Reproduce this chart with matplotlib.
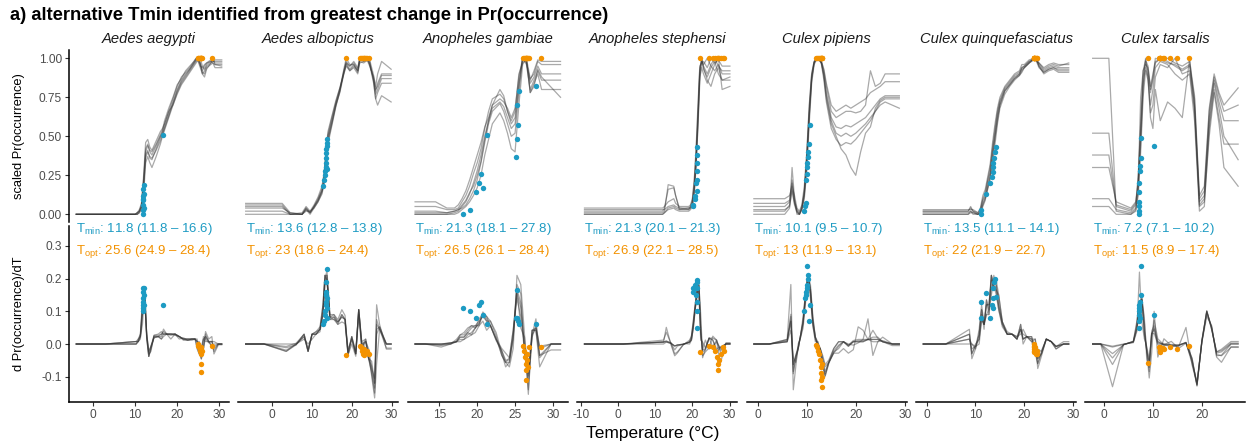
import numpy as np
import matplotlib
matplotlib.use("Agg")
import matplotlib.pyplot as plt

plt.rcParams['font.family'] = ['Liberation Sans', 'DejaVu Sans']
plt.rcParams['mathtext.fontset'] = 'custom'
plt.rcParams['mathtext.rm'] = 'Liberation Sans'
plt.rcParams['mathtext.it'] = 'Liberation Sans:italic'

BLUE = '#1D9BC3'
ORANGE = '#F39200'
LINE = '#333333'

species = ["Aedes aegypti", "Aedes albopictus", "Anopheles gambiae",
           "Anopheles stephensi", "Culex pipiens", "Culex quinquefasciatus",
           "Culex tarsalis"]

# ---------------- Aedes aegypti ----------------
aeg_temp = [-4.0, 10, 10.5, 11, 11.5, 12, 12.5, 13, 13.5, 14, 15, 16, 16.5, 17, 18, 19,
            20, 21, 22, 23, 24, 24.5, 25, 25.5, 26, 26.5, 27, 28, 28.5, 29, 30.6]
aeg_runs = [
    [0, 0, 0.01, 0.02, 0.05, 0.20, 0.42, 0.45, 0.40, 0.38, 0.44, 0.50, 0.52, 0.56, 0.64, 0.72, 0.80, 0.86, 0.90, 0.93, 0.97, 0.99, 1.00, 0.97, 0.92, 0.95, 0.97, 0.98, 0.99, 0.97, 0.97],
    [0, 0, 0.00, 0.01, 0.03, 0.15, 0.38, 0.41, 0.36, 0.35, 0.42, 0.49, 0.53, 0.58, 0.66, 0.70, 0.78, 0.84, 0.88, 0.92, 0.96, 0.98, 0.99, 1.00, 0.95, 0.93, 0.96, 0.98, 0.97, 0.96, 0.96],
    [0, 0, 0.01, 0.02, 0.06, 0.24, 0.46, 0.48, 0.43, 0.41, 0.47, 0.53, 0.55, 0.58, 0.66, 0.74, 0.82, 0.88, 0.91, 0.94, 0.98, 1.00, 0.98, 0.94, 0.90, 0.92, 0.95, 0.97, 0.98, 0.99, 0.99],
    [0, 0, 0.00, 0.01, 0.04, 0.12, 0.33, 0.37, 0.33, 0.30, 0.37, 0.45, 0.50, 0.54, 0.62, 0.70, 0.77, 0.83, 0.87, 0.91, 0.95, 0.97, 0.99, 0.96, 0.90, 0.88, 0.93, 0.97, 1.00, 0.96, 0.95],
    [0, 0, 0.01, 0.03, 0.07, 0.22, 0.40, 0.44, 0.41, 0.40, 0.45, 0.51, 0.54, 0.60, 0.68, 0.75, 0.83, 0.87, 0.92, 0.95, 0.98, 1.00, 0.99, 0.95, 0.94, 0.96, 0.97, 0.99, 0.98, 0.98, 0.98],
    [0, 0, 0.00, 0.02, 0.05, 0.18, 0.36, 0.40, 0.37, 0.36, 0.41, 0.47, 0.51, 0.55, 0.63, 0.71, 0.79, 0.85, 0.89, 0.93, 0.97, 0.99, 1.00, 0.97, 0.91, 0.90, 0.94, 0.96, 0.97, 0.94, 0.94],
]
aeg_pr_max = 0.38
aeg_tmin = [11.8, 11.8, 11.9, 11.8, 12.0, 11.8, 12.1, 11.8, 12.2, 11.8, 16.6]
aeg_tmin_occ = [0.00, 0.03, 0.06, 0.10, 0.13, 0.16, 0.19, 0.09, 0.04, 0.12, 0.51]
aeg_tmin_slope = [0.10, 0.12, 0.13, 0.14, 0.15, 0.17, 0.17, 0.11, 0.12, 0.16, 0.12]
aeg_topt = [24.9, 25.0, 25.2, 25.4, 25.6, 25.6, 25.7, 25.8, 25.6, 28.4, 25.5]
aeg_topt_slope = [0.00, -0.005, -0.01, -0.02, -0.03, -0.06, -0.085, -0.02, -0.01, -0.005, -0.015]
aeg_xticks = [0, 10, 20, 30]

# ---------------- Aedes albopictus ----------------
alb_temp = [-6.7, 2.5, 4.5, 7.5, 8.5, 9.5, 10.5, 11.5, 12.5, 13, 13.5, 14, 15, 16, 17, 18,
            18.6, 19.5, 20.5, 21.5, 22, 23, 24, 24.5, 25.5, 26, 26.5, 27.5, 29.9]
alb_runs = [
    [0.07, 0.07, 0.01, 0.00, 0.04, 0.01, 0.05, 0.09, 0.15, 0.22, 0.36, 0.50, 0.60, 0.71, 0.80, 0.91, 0.97, 0.95, 0.97, 0.93, 1.00, 0.99, 1.00, 0.97, 0.86, 0.77, 0.80, 0.87, 0.87],
    [0.05, 0.05, 0.00, 0.00, 0.02, 0.02, 0.04, 0.08, 0.13, 0.19, 0.31, 0.45, 0.57, 0.69, 0.79, 0.93, 1.00, 0.96, 0.96, 0.91, 0.98, 0.97, 0.99, 0.96, 0.84, 0.74, 0.78, 0.84, 0.84],
    [0.02, 0.02, 0.00, 0.01, 0.05, 0.02, 0.06, 0.11, 0.18, 0.26, 0.40, 0.53, 0.63, 0.73, 0.81, 0.90, 0.95, 0.92, 0.95, 0.92, 0.99, 1.00, 0.98, 0.95, 0.88, 0.80, 0.82, 0.89, 0.89],
    [0.00, 0.00, 0.00, 0.00, 0.03, 0.00, 0.04, 0.08, 0.14, 0.20, 0.33, 0.48, 0.59, 0.70, 0.78, 0.90, 0.96, 0.92, 0.94, 0.90, 0.97, 0.98, 1.00, 0.98, 0.85, 0.74, 0.70, 0.76, 0.72],
    [0.04, 0.04, 0.01, 0.00, 0.04, 0.01, 0.05, 0.10, 0.16, 0.24, 0.38, 0.51, 0.62, 0.72, 0.81, 0.92, 0.98, 0.95, 0.98, 0.94, 1.00, 0.98, 0.99, 0.96, 0.87, 0.79, 0.84, 0.90, 0.90],
    [0.06, 0.06, 0.00, 0.00, 0.03, 0.01, 0.05, 0.09, 0.15, 0.21, 0.34, 0.47, 0.58, 0.70, 0.79, 0.91, 0.97, 0.93, 0.96, 0.92, 0.99, 0.99, 1.00, 0.99, 0.89, 0.82, 0.90, 0.98, 0.93],
]
alb_pr_max = 0.75
alb_tmin = [12.8, 13.0, 13.2, 13.3, 13.4, 13.5, 13.6, 13.6, 13.6, 13.7, 13.7, 13.8, 13.8]
alb_tmin_occ = [0.18, 0.22, 0.25, 0.28, 0.30, 0.33, 0.36, 0.39, 0.42, 0.44, 0.46, 0.48, 0.29]
alb_tmin_slope = [0.06, 0.07, 0.09, 0.10, 0.12, 0.13, 0.15, 0.16, 0.19, 0.23, 0.11, 0.14, 0.08]
alb_topt = [18.6, 22.0, 22.2, 22.5, 22.8, 23.0, 23.0, 23.2, 23.5, 23.8, 24.4]
alb_topt_slope = [-0.035, -0.005, -0.01, -0.02, -0.03, -0.015, -0.035, -0.02, -0.025, -0.02, -0.03]
alb_xticks = [0, 10, 20, 30]

# ---------------- Anopheles gambiae ----------------
gam_temp = [11.8, 14.5, 16, 17, 17.5, 18, 18.5, 19, 19.5, 20, 20.5, 21, 21.5, 22, 23, 23.5,
            24, 24.5, 25, 25.5, 26, 26.5, 27, 27.5, 28, 28.5, 31.0]
gam_runs = [
    [0.00, 0.00, 0.00, 0.01, 0.02, 0.05, 0.08, 0.13, 0.20, 0.28, 0.38, 0.50, 0.60, 0.68, 0.72, 0.69, 0.62, 0.55, 0.58, 0.82, 1.00, 0.98, 0.84, 0.88, 0.95, 0.90, 0.90],
    [0.02, 0.02, 0.01, 0.02, 0.03, 0.04, 0.06, 0.10, 0.15, 0.22, 0.33, 0.46, 0.58, 0.66, 0.71, 0.66, 0.58, 0.50, 0.52, 0.78, 1.00, 0.96, 0.80, 0.86, 0.92, 0.86, 0.86],
    [0.05, 0.05, 0.03, 0.03, 0.04, 0.08, 0.12, 0.18, 0.26, 0.33, 0.42, 0.55, 0.66, 0.74, 0.77, 0.74, 0.66, 0.60, 0.66, 0.90, 0.97, 1.00, 0.87, 0.90, 0.98, 0.96, 0.96],
    [0.00, 0.00, 0.00, 0.00, 0.01, 0.03, 0.05, 0.08, 0.12, 0.17, 0.25, 0.38, 0.48, 0.58, 0.65, 0.60, 0.52, 0.42, 0.40, 0.70, 0.96, 1.00, 0.78, 0.84, 0.90, 0.80, 0.80],
    [0.08, 0.08, 0.04, 0.04, 0.06, 0.10, 0.15, 0.22, 0.30, 0.38, 0.46, 0.56, 0.62, 0.70, 0.74, 0.72, 0.68, 0.62, 0.68, 0.88, 1.00, 0.97, 0.86, 0.92, 0.99, 0.98, 0.98],
    [0.01, 0.01, 0.01, 0.02, 0.03, 0.06, 0.09, 0.14, 0.18, 0.25, 0.34, 0.48, 0.60, 0.70, 0.80, 0.76, 0.66, 0.58, 0.62, 0.84, 1.00, 0.98, 0.78, 0.82, 0.93, 0.88, 0.75],
]
gam_pr_max = 0.35
gam_tmin = [18.1, 19.1, 19.9, 20.2, 20.5, 20.8, 21.3, 25.1, 25.2, 25.3, 25.4, 25.5, 27.8]
gam_tmin_occ = [0.00, 0.03, 0.14, 0.20, 0.26, 0.17, 0.51, 0.37, 0.70, 0.48, 0.57, 0.79, 0.82]
gam_tmin_slope = [0.11, 0.10, 0.08, 0.12, 0.13, 0.09, 0.06, 0.08, 0.165, 0.08, 0.07, 0.06, 0.06]
gam_topt = [26.1, 26.2, 26.3, 26.4, 26.5, 26.5, 26.6, 26.6, 26.7, 26.8, 28.4]
gam_topt_slope = [-0.005, -0.02, -0.04, -0.06, -0.08, -0.11, -0.03, -0.05, -0.07, -0.01, -0.008]
gam_xticks = [15, 20, 25, 30]

# ---------------- Anopheles stephensi ----------------
ste_temp = [-9.0, 12, 12.5, 13.5, 15, 15.5, 16.5, 19, 19.5, 20, 20.5, 21, 21.5, 22, 22.5,
            23, 24, 25, 26, 27, 28, 30.1]
ste_runs = [
    [0.02, 0.02, 0.04, 0.16, 0.17, 0.12, 0.04, 0.04, 0.05, 0.08, 0.18, 0.36, 0.62, 0.92, 0.98, 0.95, 0.90, 0.96, 1.00, 0.95, 0.92, 0.92],
    [0.00, 0.00, 0.01, 0.03, 0.04, 0.03, 0.02, 0.02, 0.03, 0.05, 0.13, 0.30, 0.58, 0.90, 1.00, 0.93, 0.88, 0.94, 0.98, 0.90, 0.86, 0.86],
    [0.04, 0.04, 0.05, 0.08, 0.10, 0.07, 0.05, 0.05, 0.06, 0.10, 0.22, 0.42, 0.70, 0.95, 0.97, 0.98, 0.94, 1.00, 0.97, 0.99, 0.95, 0.95],
    [0.01, 0.01, 0.02, 0.19, 0.18, 0.12, 0.03, 0.04, 0.04, 0.06, 0.15, 0.33, 0.60, 0.88, 0.94, 0.90, 0.84, 0.90, 0.96, 1.00, 0.80, 0.82],
    [0.03, 0.03, 0.03, 0.05, 0.06, 0.05, 0.04, 0.03, 0.05, 0.09, 0.20, 0.40, 0.66, 0.94, 0.99, 0.96, 1.00, 0.95, 0.92, 0.96, 0.90, 0.90],
    [0.00, 0.00, 0.01, 0.04, 0.05, 0.04, 0.03, 0.03, 0.04, 0.06, 0.14, 0.32, 0.55, 0.85, 1.00, 0.94, 0.86, 0.82, 0.90, 0.94, 0.86, 0.88],
]
ste_pr_max = 0.30
ste_tmin = [20.1, 20.3, 20.6, 20.8, 21.0, 21.3, 21.3, 21.3, 21.3, 21.3, 21.3]
ste_tmin_occ = [0.05, 0.06, 0.10, 0.12, 0.20, 0.15, 0.22, 0.28, 0.33, 0.38, 0.43]
ste_tmin_slope = [0.17, 0.16, 0.18, 0.17, 0.15, 0.05, 0.10, 0.13, 0.17, 0.19, 0.195]
ste_topt = [22.1, 24.5, 25.5, 26.2, 26.7, 26.9, 27.0, 27.2, 27.8, 28.2, 28.5]
ste_topt_slope = [-0.024, -0.005, -0.01, -0.02, -0.04, -0.06, -0.08, -0.05, -0.03, -0.01, -0.02]
ste_xticks = [-10, 0, 10, 20, 30]

# ---------------- Culex pipiens ----------------
pip_temp = [-0.8, 5.5, 6.5, 7, 7.5, 8, 8.5, 9, 9.5, 10, 10.5, 11, 11.5, 12, 12.5, 13, 13.5,
            14, 15, 16, 17, 18, 19, 20, 21, 22, 23, 24, 25, 26, 28.9]
pip_runs = [
    [0.05, 0.05, 0.08, 0.20, 0.08, 0.02, 0.00, 0.04, 0.14, 0.35, 0.65, 0.88, 0.97, 1.00, 0.99, 0.97, 0.90, 0.78, 0.62, 0.56, 0.55, 0.57, 0.56, 0.58, 0.60, 0.62, 0.66, 0.70, 0.74, 0.76, 0.76],
    [0.00, 0.00, 0.04, 0.30, 0.10, 0.00, 0.00, 0.03, 0.10, 0.28, 0.58, 0.84, 0.96, 0.99, 1.00, 0.96, 0.86, 0.72, 0.55, 0.48, 0.44, 0.46, 0.45, 0.48, 0.52, 0.56, 0.60, 0.66, 0.72, 0.74, 0.74],
    [0.10, 0.10, 0.12, 0.18, 0.12, 0.04, 0.02, 0.06, 0.18, 0.40, 0.70, 0.90, 0.98, 1.00, 1.00, 0.98, 0.93, 0.84, 0.70, 0.66, 0.68, 0.70, 0.68, 0.70, 0.72, 0.74, 0.78, 0.80, 0.82, 0.85, 0.85],
    [0.03, 0.03, 0.05, 0.15, 0.06, 0.01, 0.00, 0.03, 0.12, 0.32, 0.62, 0.86, 0.97, 1.00, 0.99, 0.97, 0.88, 0.74, 0.58, 0.50, 0.42, 0.38, 0.30, 0.25, 0.40, 0.52, 0.56, 0.68, 0.73, 0.75, 0.75],
    [0.07, 0.07, 0.09, 0.22, 0.09, 0.03, 0.01, 0.05, 0.15, 0.38, 0.68, 0.90, 0.98, 0.99, 1.00, 0.98, 0.92, 0.82, 0.66, 0.62, 0.64, 0.66, 0.66, 0.65, 0.66, 0.70, 0.92, 0.82, 0.84, 0.90, 0.90],
    [0.02, 0.02, 0.06, 0.16, 0.07, 0.02, 0.00, 0.04, 0.13, 0.34, 0.63, 0.87, 0.97, 1.00, 1.00, 0.97, 0.89, 0.76, 0.60, 0.52, 0.50, 0.52, 0.50, 0.52, 0.55, 0.58, 0.62, 0.66, 0.70, 0.72, 0.68],
]
pip_pr_max = 0.35
pip_tmin = [9.5, 9.6, 9.8, 9.9, 10.0, 10.1, 10.1, 10.2, 10.3, 10.5, 10.7]
pip_tmin_occ = [0.02, 0.05, 0.07, 0.22, 0.26, 0.30, 0.33, 0.37, 0.40, 0.45, 0.57]
pip_tmin_slope = [0.10, 0.14, 0.15, 0.16, 0.17, 0.18, 0.24, 0.20, 0.21, 0.07, 0.12]
pip_topt = [11.9, 12.1, 12.3, 12.5, 12.8, 13.0, 13.0, 13.0, 13.1, 13.1, 13.1]
pip_topt_slope = [-0.003, -0.01, -0.02, -0.03, -0.05, -0.07, -0.09, -0.11, -0.13, -0.06, -0.10]
pip_xticks = [0, 10, 20, 30]

# ---------------- Culex quinquefasciatus ----------------
qui_temp = [-0.7, 8.5, 9, 9.5, 10.5, 11, 11.5, 12, 12.5, 13, 13.5, 14, 14.5, 15, 16, 17, 18,
            19, 19.5, 20, 21, 22, 22.5, 23, 24, 25, 26, 27, 29.1]
qui_runs = [
    [0.02, 0.02, 0.05, 0.02, 0.00, 0.02, 0.09, 0.12, 0.21, 0.27, 0.41, 0.52, 0.64, 0.72, 0.80, 0.84, 0.88, 0.90, 0.94, 0.95, 0.98, 1.00, 0.99, 0.96, 0.92, 0.94, 0.95, 0.94, 0.94],
    [0.00, 0.00, 0.01, 0.01, 0.00, 0.01, 0.06, 0.10, 0.16, 0.22, 0.32, 0.45, 0.58, 0.68, 0.77, 0.82, 0.86, 0.89, 0.91, 0.94, 0.97, 0.99, 1.00, 0.95, 0.90, 0.92, 0.93, 0.91, 0.91],
    [0.03, 0.03, 0.03, 0.03, 0.01, 0.04, 0.12, 0.16, 0.24, 0.32, 0.46, 0.58, 0.68, 0.75, 0.82, 0.86, 0.90, 0.92, 0.96, 0.96, 0.99, 1.00, 0.98, 0.97, 0.94, 0.96, 0.97, 0.96, 0.96],
    [0.01, 0.01, 0.02, 0.01, 0.00, 0.00, 0.05, 0.09, 0.18, 0.25, 0.36, 0.50, 0.62, 0.70, 0.79, 0.83, 0.87, 0.89, 0.92, 0.94, 0.97, 1.00, 0.98, 0.94, 0.91, 0.93, 0.94, 0.93, 0.93],
    [0.02, 0.02, 0.04, 0.02, 0.01, 0.03, 0.10, 0.14, 0.22, 0.30, 0.43, 0.55, 0.66, 0.73, 0.81, 0.85, 0.89, 0.91, 0.94, 0.95, 0.98, 0.99, 1.00, 0.97, 0.93, 0.95, 0.96, 0.95, 0.97],
    [0.00, 0.00, 0.02, 0.00, 0.00, 0.01, 0.07, 0.11, 0.17, 0.24, 0.38, 0.49, 0.60, 0.70, 0.79, 0.83, 0.87, 0.90, 0.93, 0.94, 0.97, 1.00, 0.99, 0.95, 0.91, 0.93, 0.94, 0.92, 0.92],
]
qui_pr_max = 0.75
qui_tmin = [11.1, 11.2, 12.2, 12.9, 13.3, 13.5, 13.5, 13.6, 13.7, 13.9, 14.1]
qui_tmin_occ = [0.00, 0.03, 0.13, 0.20, 0.24, 0.27, 0.30, 0.33, 0.36, 0.40, 0.43]
qui_tmin_slope = [0.08, 0.13, 0.155, 0.08, 0.12, 0.14, 0.17, 0.11, 0.19, 0.20, 0.145]
qui_topt = [21.9, 21.9, 22.0, 22.0, 22.0, 22.0, 22.1, 22.2, 22.4, 22.6, 22.7]
qui_topt_slope = [0.0, -0.005, -0.01, -0.015, -0.02, -0.025, -0.01, -0.02, -0.03, -0.02, -0.03]
qui_xticks = [0, 10, 20, 30]

# ---------------- Culex tarsalis ----------------
tar_temp = [-2.3, 1.0, 2.5, 5.5, 6.5, 7, 7.5, 8, 8.5, 9, 9.5, 10, 10.5, 11.5, 13, 14.5, 16,
            17.5, 18.5, 19.5, 20.5, 21.5, 22.5, 23.5, 24.5, 27.4]
tar_runs = [
    [0.52, 0.52, 0.05, 0.02, 0.06, 0.22, 0.55, 0.88, 0.98, 0.92, 0.78, 0.86, 0.97, 1.00, 0.98, 0.95, 0.92, 0.95, 0.70, 0.08, 0.12, 0.62, 0.86, 0.72, 0.60, 0.60],
    [1.00, 1.00, 0.02, 0.00, 0.03, 0.15, 0.45, 0.80, 1.00, 0.88, 0.70, 0.80, 0.94, 0.98, 0.96, 0.90, 0.86, 0.90, 0.60, 0.02, 0.05, 0.55, 0.80, 0.62, 0.45, 0.45],
    [0.30, 0.30, 0.08, 0.04, 0.08, 0.20, 0.75, 0.92, 0.96, 0.94, 0.82, 0.90, 0.98, 0.99, 1.00, 0.97, 0.95, 0.98, 0.76, 0.12, 0.18, 0.68, 0.90, 0.78, 0.70, 0.81],
    [0.05, 0.05, 0.00, 0.00, 0.02, 0.12, 0.40, 0.75, 0.92, 0.86, 0.65, 0.70, 0.88, 0.96, 0.94, 1.00, 0.90, 0.92, 0.66, 0.05, 0.08, 0.50, 0.78, 0.58, 0.30, 0.18],
    [0.38, 0.38, 0.06, 0.03, 0.07, 0.25, 0.58, 0.92, 0.99, 0.95, 0.80, 0.88, 1.00, 0.99, 0.97, 0.96, 0.93, 0.96, 0.74, 0.10, 0.15, 0.66, 0.88, 0.76, 0.66, 0.70],
    [0.10, 0.10, 0.03, 0.01, 0.04, 0.18, 0.50, 0.84, 0.94, 0.88, 0.62, 0.55, 0.80, 0.60, 0.72, 0.68, 0.62, 1.00, 0.68, 0.06, 0.10, 0.58, 0.84, 0.68, 0.50, 0.35],
]
tar_pr_max = 0.20
tar_tmin = [7.1, 7.1, 7.1, 7.2, 7.2, 7.2, 7.3, 7.4, 7.5, 7.6, 10.2]
tar_tmin_occ = [0.00, 0.02, 0.05, 0.08, 0.14, 0.20, 0.28, 0.31, 0.36, 0.49, 0.44]
tar_tmin_slope = [0.05, 0.07, 0.09, 0.10, 0.11, 0.12, 0.13, 0.08, 0.24, 0.15, 0.09]
tar_topt = [8.9, 11.3, 11.4, 11.5, 11.5, 11.5, 12.0, 12.3, 13.4, 15.0, 17.4]
tar_topt_slope = [-0.057, -0.01, -0.02, -0.015, -0.025, -0.01, -0.012, -0.015, -0.01, -0.015, -0.006]
tar_xticks = [0, 10, 20]

panels = [
    (aeg_temp, aeg_runs, aeg_pr_max, aeg_tmin, aeg_tmin_occ, aeg_tmin_slope, aeg_topt, aeg_topt_slope, aeg_xticks),
    (alb_temp, alb_runs, alb_pr_max, alb_tmin, alb_tmin_occ, alb_tmin_slope, alb_topt, alb_topt_slope, alb_xticks),
    (gam_temp, gam_runs, gam_pr_max, gam_tmin, gam_tmin_occ, gam_tmin_slope, gam_topt, gam_topt_slope, gam_xticks),
    (ste_temp, ste_runs, ste_pr_max, ste_tmin, ste_tmin_occ, ste_tmin_slope, ste_topt, ste_topt_slope, ste_xticks),
    (pip_temp, pip_runs, pip_pr_max, pip_tmin, pip_tmin_occ, pip_tmin_slope, pip_topt, pip_topt_slope, pip_xticks),
    (qui_temp, qui_runs, qui_pr_max, qui_tmin, qui_tmin_occ, qui_tmin_slope, qui_topt, qui_topt_slope, qui_xticks),
    (tar_temp, tar_runs, tar_pr_max, tar_tmin, tar_tmin_occ, tar_tmin_slope, tar_topt, tar_topt_slope, tar_xticks),
]

W, H = 1246, 448
fig = plt.figure(figsize=(W / 100, H / 100), dpi=100)


def px_axes(x0, y0, x1, y1):
    return fig.add_axes([x0 / W, 1 - y1 / H, (x1 - x0) / W, (y1 - y0) / H])


def summary(vals):
    v = np.asarray(vals, dtype=float)
    return f"{round(float(np.median(v)), 1):g} ({v.min():g} \u2013 {v.max():g})"


TICK_COL = '#4D4D4D'
for i, (name, p) in enumerate(zip(species, panels)):
    temp, runs, pr_max, tmin, tmin_occ, tmin_slope, topt, topt_slope, xticks = p
    t = np.asarray(temp, dtype=float)
    lo, hi = t[0], t[-1]
    span = hi - lo
    xlim = (lo - 0.05 * span, hi + 0.05 * span)

    x0 = 69 + i * 169.4
    x1 = x0 + 160
    ax_t = px_axes(x0, 50.5, x1, 222.1)
    ax_b = px_axes(x0, 226, x1, 402)

    # scaled occurrence curves
    for r in runs:
        ax_t.plot(t, r, color=LINE, alpha=0.42, lw=0.9, solid_joinstyle='round')
    ax_t.scatter(tmin, tmin_occ, s=15, color=BLUE, linewidths=0, zorder=3)
    ax_t.scatter(topt, np.ones(len(topt)), s=15, color=ORANGE, linewidths=0, zorder=3)
    ax_t.set_xlim(xlim)
    ax_t.set_ylim(-0.05, 1.05)
    ax_t.set_xticks([])
    ax_t.set_title(name, style='italic', fontsize=10.6, pad=5.6, color='#1A1A1A')

    # derivative of Pr(occurrence)
    for r in runs:
        y = np.asarray(r, dtype=float) * pr_max
        slope = np.diff(y) / np.diff(t)
        mid = (t[:-1] + t[1:]) / 2
        xs = np.concatenate([[t[0]], mid, [t[-1]]])
        ys = np.concatenate([[slope[0]], slope, [slope[-1]]])
        ax_b.plot(xs, ys, color=LINE, alpha=0.42, lw=0.9, solid_joinstyle='round')
    ax_b.scatter(tmin, tmin_slope, s=15, color=BLUE, linewidths=0, zorder=3)
    ax_b.scatter(topt, topt_slope, s=15, color=ORANGE, linewidths=0, zorder=3)
    ax_b.set_xlim(xlim)
    ax_b.set_ylim(-0.1774, 0.361)
    ax_b.set_xticks(xticks)
    ax_b.set_xticklabels([f"{v:d}" for v in xticks])

    ax_b.text(lo, 0.342, r"T$_{\mathrm{min}}$: " + summary(tmin), color=BLUE,
              fontsize=9.5, ha='left', va='baseline')
    ax_b.text(lo, 0.277, r"T$_{\mathrm{opt}}$: " + summary(topt), color=ORANGE,
              fontsize=9.5, ha='left', va='baseline')

    for ax in (ax_t, ax_b):
        for s in ax.spines.values():
            s.set_visible(False)
        ax.tick_params(axis='both', labelsize=8.6, labelcolor=TICK_COL, color='#333333',
                       length=3, width=0.8, pad=2)
        ax.set_facecolor('none')
    ax_b.spines['bottom'].set_visible(True)
    ax_b.spines['bottom'].set_linewidth(1.1)
    ax_b.spines['bottom'].set_color('black')

    if i == 0:
        for ax in (ax_t, ax_b):
            ax.spines['left'].set_visible(True)
            ax.spines['left'].set_linewidth(1.1)
            ax.spines['left'].set_color('black')
        ax_t.set_yticks([0, 0.25, 0.5, 0.75, 1.0])
        ax_t.set_yticklabels(['0.00', '0.25', '0.50', '0.75', '1.00'])
        ax_b.set_yticks([-0.1, 0.0, 0.1, 0.2, 0.3])
        ax_b.set_yticklabels(['-0.1', '0.0', '0.1', '0.2', '0.3'])
    else:
        ax_t.set_yticks([])
        ax_b.set_yticks([])

fig.text(19 / W, 1 - 136 / H, "scaled Pr(occurrence)", rotation=90, ha='center',
         va='center', fontsize=9.3)
fig.text(19 / W, 1 - 314 / H, "d Pr(occurrence)/dT", rotation=90, ha='center',
         va='center', fontsize=9.3)
fig.text(653 / W, 1 - 438 / H, "Temperature (\u00b0C)", ha='center', va='baseline',
         fontsize=12.5)
fig.text(10 / W, 1 - 19.5 / H,
         "a) alternative Tmin identified from greatest change in Pr(occurrence)",
         fontweight='bold', fontsize=13.2, va='baseline')

fig.savefig("out.png", dpi=100)
